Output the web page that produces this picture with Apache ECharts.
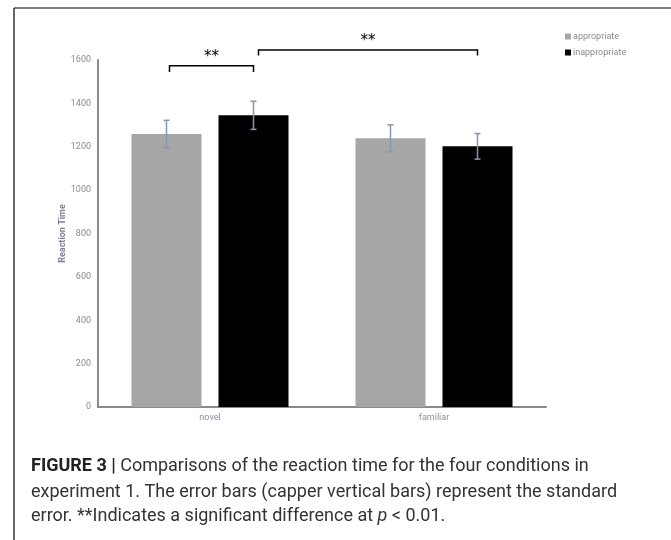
<!DOCTYPE html>
<html><head><meta charset="utf-8">
<script src="https://cdn.jsdelivr.net/npm/echarts@6/dist/echarts.min.js"></script>
<style>html,body{margin:0;padding:0;background:#fff}#c{width:671px;height:540px}</style>
</head><body><div id="c"></div>
<script>
var categories = ['novel', 'familiar'];
var seriesNames = ['appropriate', 'inappropriate'];
var appropriate = [1259, 1239];
var inappropriate = [1345, 1202];
var appropriateSE = [63, 62];
var inappropriateSE = [65, 59];
var yTicks = [0, 200, 400, 600, 800, 1000, 1200, 1400, 1600];
// significance brackets
var bracketFrom = [[0, 0], [0, 1]];
var bracketTo = [[0, 1], [1, 1]];
var bracketLevel = [1574, 1646];
var bracketDrop = [29, 25];
var bracketLabel = ['**', '**'];

var BAR_W = 70, BAR_GAP = 17;
function barOffset(s) { return (s === 0 ? -1 : 1) * (BAR_W + BAR_GAP) / 2; }

var chart = echarts.init(document.getElementById('c'), null, {renderer: 'canvas'});

var errData = [];
[appropriate, inappropriate].forEach(function (arr, s) {
  var se = s === 0 ? appropriateSE : inappropriateSE;
  arr.forEach(function (v, i) { errData.push([i, v - se[i], v + se[i], s]); });
});
var brData = bracketFrom.map(function (f, k) {
  return [f[0], f[1], bracketTo[k][0], bracketTo[k][1], bracketLevel[k], bracketDrop[k], k];
});

var option = {
  animation: false,
  grid: {left: 98, right: 125, top: 60, bottom: 133},
  legend: {
    orient: 'vertical', left: 560, top: 27, itemWidth: 6, itemHeight: 6, itemGap: 7,
    icon: 'rect', data: seriesNames,
    textStyle: {color: '#8c8c8c', fontSize: 9, fontFamily: 'Roboto', padding: [0, 0, 0, -3]}
  },
  xAxis: {
    type: 'category', data: categories,
    axisLine: {lineStyle: {color: '#8a8a8a', width: 2}},
    axisTick: {show: false},
    axisLabel: {color: '#8c8ca0', fontSize: 9, fontFamily: 'Roboto', margin: 6}
  },
  yAxis: {
    type: 'value', min: yTicks[0], max: yTicks[yTicks.length - 1], interval: yTicks[1] - yTicks[0],
    name: 'Reaction Time', nameLocation: 'middle', nameGap: 31, nameMoveOverlap: false,
    nameTextStyle: {color: '#7f8096', fontSize: 9, fontFamily: 'Roboto', fontWeight: 'bold'},
    axisLine: {show: true, lineStyle: {color: '#8a8a8a', width: 2}},
    axisTick: {show: false}, splitLine: {show: false},
    axisLabel: {color: '#8c8c8c', fontSize: 9, fontFamily: 'Roboto', margin: 7,
      formatter: function (v) { return String(v); }}
  },
  series: [
    {name: seriesNames[0], type: 'bar', data: appropriate, barWidth: BAR_W, barGap: (BAR_GAP / BAR_W * 100) + '%',
     itemStyle: {color: '#a6a6a6'}},
    {name: seriesNames[1], type: 'bar', data: inappropriate, barWidth: BAR_W,
     itemStyle: {color: '#000000'}},
    {type: 'custom', data: errData, z: 5, silent: true,
     renderItem: function (params, api) {
       var c = api.value(0), s = api.value(3);
       var lo = api.coord([c, api.value(1)]), hi = api.coord([c, api.value(2)]);
       var x = lo[0] + barOffset(s);
       var st = {stroke: '#8497b0', lineWidth: 1.5};
       return {type: 'group', children: [
         {type: 'line', shape: {x1: x, y1: lo[1], x2: x, y2: hi[1]}, style: st},
         {type: 'line', shape: {x1: x - 3, y1: lo[1], x2: x + 3, y2: lo[1]}, style: st},
         {type: 'line', shape: {x1: x - 3, y1: hi[1], x2: x + 3, y2: hi[1]}, style: st}
       ]};
     }},
    {type: 'custom', data: brData, z: 6, silent: true, clip: false,
     renderItem: function (params, api) {
       var a = api.coord([api.value(0), api.value(4)]);
       var b = api.coord([api.value(2), api.value(4)]);
       var bot = api.coord([api.value(0), api.value(4) - api.value(5)]);
       var k = api.value(6);
       var x1 = a[0] + barOffset(api.value(1)) + (k === 0 ? 3 : 5);
       var x2 = b[0] + barOffset(api.value(3));
       var y = a[1];
       var st = {stroke: '#000', lineWidth: 1.5, fill: null};
       return {type: 'group', children: [
         {type: 'polyline', shape: {points: [[x1, bot[1]], [x1, y], [x2, y], [x2, bot[1]]]}, style: st},
         {type: 'text', style: {text: bracketLabel[k], x: (x1 + x2) / 2, y: y - 1, align: 'center', verticalAlign: 'bottom',
           fill: '#000', font: '15px "DejaVu Sans"'}}
       ]};
     }}
  ],
  graphic: [
    {type: 'line', shape: {x1: 14, y1: 8, x2: 671, y2: 8}, style: {stroke: '#555', lineWidth: 1.5}},
    {type: 'line', shape: {x1: 14, y1: 8, x2: 14, y2: 540}, style: {stroke: '#333', lineWidth: 1.5}},
    {type: 'text', left: 31, top: 457, style: {
      text: '{b|FIGURE 3 |} Comparisons of the reaction time for the four conditions in',
      rich: {b: {fontWeight: 'bold', fontSize: 18, fontFamily: 'Roboto', fill: '#222'}},
      font: '18px Roboto', fill: '#333'}},
    {type: 'text', left: 31, top: 483, style: {
      text: 'experiment 1. The error bars (capper vertical bars) represent the standard',
      font: '18px Roboto', fill: '#333'}},
    {type: 'text', left: 31, top: 507, style: {
      text: 'error. **Indicates a significant difference at {i|p} < 0.01.',
      rich: {i: {fontStyle: 'italic', fontSize: 18, fontFamily: 'Roboto', fill: '#333'}},
      font: '18px Roboto', fill: '#333'}}
  ]
};
chart.setOption(option);
</script></body></html>
